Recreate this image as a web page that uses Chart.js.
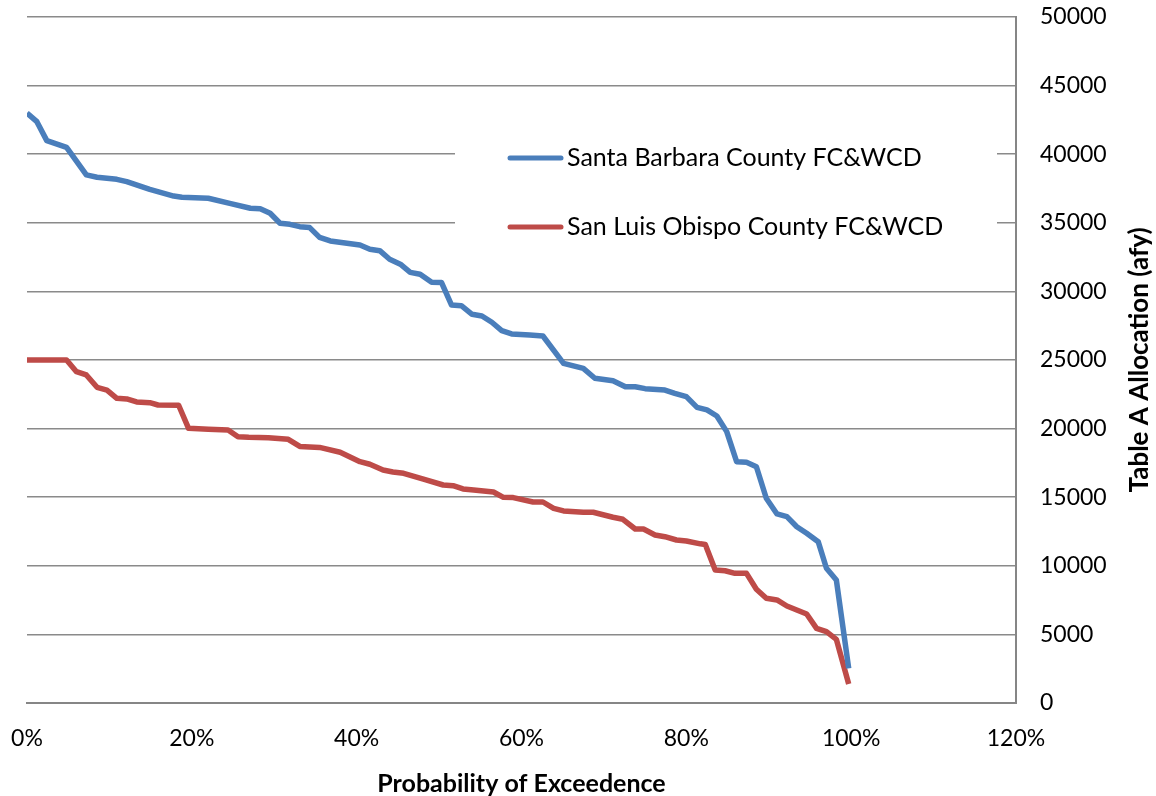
<!DOCTYPE html>
<html>
<head>
    <title>Table A Allocation - Probability of Exceedence</title>
    <script src="https://cdn.jsdelivr.net/npm/chart.js"></script>
    <style>
        body { margin: 0; background: #fff; }
        #wrap { width: 1156px; height: 796px; position: relative; }
    </style>
</head>
<body>
    <div id="wrap">
        <canvas id="exceedChart"></canvas>
    </div>

    <script>
        // probability of exceedence (%) and allocation (afy)
        const sbProb = [0, 1.2, 2.4, 4.8, 7.2, 8.5, 10.9, 12.1, 14.9, 17.8, 18.8, 22.0, 24.6, 27.1, 28.3,
            29.5, 30.7, 31.9, 33.1, 34.3, 35.5, 36.8, 40.4, 41.6, 42.8, 44.0, 45.3, 46.5, 47.7, 49.1,
            50.3, 51.5, 52.7, 54.0, 55.2, 56.4, 57.6, 58.8, 61.0, 62.6, 65.1, 67.5, 68.9, 71.1, 72.6,
            73.8, 75.0, 77.4, 78.6, 80.0, 81.3, 82.5, 83.7, 84.9, 86.1, 87.3, 88.5, 89.7, 91.0, 92.2,
            93.4, 94.6, 96.0, 97.0, 98.2, 99.7];
        const sbAlloc = [43000, 42370, 40990, 40500, 38490, 38320, 38170, 38000, 37440, 36950, 36860, 36790, 36420, 36060, 36030,
            35700, 34970, 34890, 34720, 34650, 33940, 33680, 33380, 33070, 32970, 32340, 31980, 31390, 31250, 30670,
            30640, 29010, 28960, 28330, 28210, 27750, 27140, 26900, 26820, 26750, 24760, 24390, 23670, 23490, 23050,
            23050, 22910, 22810, 22570, 22330, 21550, 21360, 20920, 19780, 17590, 17540, 17220, 14920, 13780, 13580,
            12850, 12370, 11760, 9820, 8970, 2530];

        const sloProb = [0, 4.8, 6.0, 7.2, 8.5, 9.7, 10.9, 12.1, 13.3, 14.9, 15.9, 18.4, 19.6, 22.0, 24.4,
            25.6, 26.9, 29.3, 31.7, 33.1, 35.5, 38.0, 40.4, 41.6, 43.2, 44.4, 45.7, 48.1, 50.5, 51.7,
            52.9, 54.2, 56.6, 57.8, 59.0, 61.4, 62.6, 63.9, 65.1, 67.5, 68.7, 71.1, 72.3, 73.8, 74.8,
            76.2, 77.4, 78.8, 80.0, 81.7, 82.3, 83.5, 84.7, 85.9, 87.3, 88.5, 89.7, 91.0, 92.2, 93.4,
            94.6, 95.8, 97.0, 98.2, 99.7];
        const sloAlloc = [25000, 25000, 24150, 23910, 23010, 22810, 22210, 22160, 21940, 21890, 21720, 21700, 20020, 19950, 19900,
            19410, 19370, 19340, 19220, 18700, 18630, 18280, 17590, 17400, 16980, 16840, 16740, 16310, 15890, 15840,
            15600, 15530, 15380, 14990, 14970, 14650, 14650, 14190, 14000, 13900, 13900, 13540, 13390, 12680, 12680,
            12250, 12120, 11880, 11810, 11600, 11550, 9690, 9640, 9450, 9450, 8290, 7630, 7510, 7070, 6780,
            6490, 5440, 5200, 4640, 1390];

        const seriesNames = ['Santa Barbara County FC&WCD', 'San Luis Obispo County FC&WCD'];
        const xTitle = 'Probability of Exceedence';
        const yTitle = 'Table A Allocation (afy)';

        function toPoints(probs, vals) {
            return probs.map((p, i) => ({ x: p / 100, y: vals[i] }));
        }

        // legend sits inside the plot on a white box that hides the gridlines
        const boxLegend = {
            id: 'boxLegend',
            beforeDatasetsDraw(chart) {
                const ctx = chart.ctx;
                ctx.save();
                ctx.fillStyle = '#fff';
                ctx.fillRect(455, 128, 542, 124);
                chart.data.datasets.forEach((ds, i) => {
                    const y = 158 + i * 69;
                    ctx.strokeStyle = ds.borderColor;
                    ctx.lineWidth = 5;
                    ctx.lineCap = 'round';
                    ctx.beginPath();
                    ctx.moveTo(510, y);
                    ctx.lineTo(561, y);
                    ctx.stroke();
                    ctx.fillStyle = '#000';
                    ctx.font = '25px Lato';
                    ctx.textBaseline = 'middle';
                    ctx.fillText(ds.label, 567, y);
                });
                ctx.restore();
            }
        };

        // right-hand axis title reads bottom to top, so draw it by hand
        const yAxisTitle = {
            id: 'yAxisTitle',
            afterDraw(chart) {
                const ctx = chart.ctx;
                const area = chart.chartArea;
                ctx.save();
                ctx.translate(1140, (area.top + area.bottom) / 2);
                ctx.rotate(-Math.PI / 2);
                ctx.font = 'bold 26px Lato';
                ctx.fillStyle = '#000';
                ctx.textAlign = 'center';
                ctx.textBaseline = 'middle';
                ctx.fillText(yTitle, 0, 0);
                ctx.restore();
            }
        };

        const ctx = document.getElementById('exceedChart').getContext('2d');
        const exceedChart = new Chart(ctx, {
            type: 'line',
            data: {
                datasets: [{
                    label: seriesNames[0],
                    data: toPoints(sbProb, sbAlloc),
                    borderColor: '#4a7ebb',
                    borderWidth: 5.5,
                    pointRadius: 0,
                    tension: 0,
                    borderJoinStyle: 'round'
                }, {
                    label: seriesNames[1],
                    data: toPoints(sloProb, sloAlloc),
                    borderColor: '#be4b48',
                    borderWidth: 5.5,
                    pointRadius: 0,
                    tension: 0,
                    borderJoinStyle: 'round'
                }]
            },
            options: {
                responsive: true,
                maintainAspectRatio: false,
                animation: false,
                layout: { padding: { left: 27, top: 17, right: 0, bottom: 0 } },
                plugins: {
                    legend: { display: false },
                    tooltip: { enabled: false }
                },
                scales: {
                    x: {
                        type: 'linear',
                        min: 0,
                        max: 1.2,
                        afterFit: s => {
                            s.height = 93;
                            s.paddingLeft = 0;
                            s.paddingRight = 0;
                        },
                        grid: { display: false, drawTicks: false },
                        border: { display: true, color: '#868686', width: 2 },
                        ticks: {
                            stepSize: 0.2,
                            padding: 22,
                            color: '#000',
                            font: { family: 'Lato', size: 23 },
                            maxRotation: 0,
                            callback: v => Math.round(v * 100) + '%'
                        },
                        title: {
                            display: true,
                            text: xTitle,
                            color: '#000',
                            font: { family: 'Lato', size: 25, weight: 'bold' },
                            padding: { top: 0, bottom: -3 }
                        }
                    },
                    y: {
                        position: 'right',
                        min: 0,
                        max: 50000,
                        afterFit: s => {
                            s.width = 140;
                            s.paddingTop = 0;
                            s.paddingBottom = 0;
                        },
                        grid: { color: '#8a8a8a', lineWidth: 1.5, drawTicks: false },
                        border: { display: true, color: '#868686', width: 2 },
                        ticks: {
                            stepSize: 5000,
                            padding: 24,
                            color: '#000',
                            font: { family: 'Lato', size: 23 },
                            callback: v => String(v)
                        }
                    }
                }
            },
            plugins: [boxLegend, yAxisTitle]
        });
    </script>
</body>
</html>
